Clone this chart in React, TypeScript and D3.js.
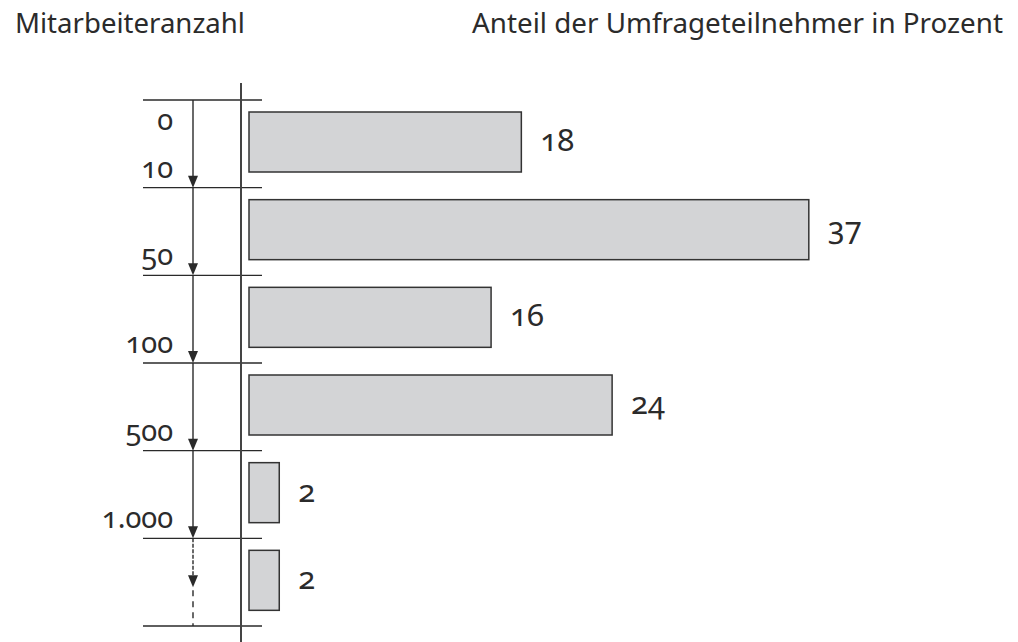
import React from "react";
import * as d3 from "d3";

const groups = ["0–10", "10–50", "50–100", "100–500", "500–1.000", "über 1.000"];
const values = [18, 37, 16, 24, 2, 2];
const tickLabels = ["0", "10", "50", "100", "500", "1.000"];
const titleLeft = "Mitarbeiteranzahl";
const titleRight = "Anteil der Umfrageteilnehmer in Prozent";

const W = 1018;
const H = 642;
const FONT = "'Noto Sans', 'Open Sans', sans-serif";

export default function App() {
  const y = d3.scaleBand<number>().domain(d3.range(groups.length)).range([100, 626]).padding(0);
  const x = d3.scaleLinear().domain([0, 40]).range([249, 249 + 40 * 15.13]);
  const step = y.step();
  const axisX = 241;
  const arrowX = 193;
  const boundaries = d3.range(groups.length + 1).map((i) => 100 + i * step);
  const ink = "#2a2a2a";
  const numStyle: React.CSSProperties = { fontFeatureSettings: "'onum' 1", fontVariantNumeric: "oldstyle-nums" };

  const arrowHead = (tipY: number, key: string) => (
    <path key={key} d={`M${arrowX - 5},${tipY - 12} L${arrowX + 5},${tipY - 12} L${arrowX},${tipY} Z`} fill={ink} />
  );

  return (
    <svg width={W} height={H} style={{ position: "absolute", left: 0, top: 0, background: "#fff" }} fontFamily={FONT}>
      <text x={15} y={33} fontSize={28} fill="#2b2b2b" textLength={230} lengthAdjust="spacingAndGlyphs">{titleLeft}</text>
      <text x={472} y={33} fontSize={28} fill="#2b2b2b" textLength={531} lengthAdjust="spacingAndGlyphs">{titleRight}</text>

      {boundaries.map((b, i) => (
        <line key={"b" + i} x1={143} x2={262} y1={b} y2={b} stroke={ink} strokeWidth={1.4} />
      ))}

      <line x1={axisX} x2={axisX} y1={83} y2={H} stroke="#444" strokeWidth={2} />

      {groups.map((g, i) => {
        const top = y(i)!;
        const bottom = top + step;
        if (i < groups.length - 1) {
          return (
            <g key={"a" + i}>
              <line x1={arrowX} x2={arrowX} y1={top} y2={bottom - 8} stroke={ink} strokeWidth={1.4} />
              {arrowHead(bottom, "h" + i)}
            </g>
          );
        }
        const tip = top + 49;
        return (
          <g key={"a" + i}>
            <line x1={arrowX} x2={arrowX} y1={top} y2={tip - 8} stroke={ink} strokeWidth={1.4} strokeDasharray="4,1.5" />
            {arrowHead(tip, "h" + i)}
            <line x1={arrowX} x2={arrowX} y1={tip + 3} y2={bottom} stroke={ink} strokeWidth={1.4} strokeDasharray="6,5" />
          </g>
        );
      })}

      {tickLabels.map((t, i) => (
        <text
          key={"t" + i}
          x={173}
          y={i === 0 ? boundaries[0] + 30 : boundaries[i] - 10}
          textAnchor="end"
          fontSize={29}
          fill="#2b2b2b"
          style={numStyle}
        >
          {t}
        </text>
      ))}

      {values.map((v, i) => {
        const top = y(i)! + 12;
        const h = 60;
        return (
          <g key={"bar" + i}>
            <rect x={x(0)} y={top} width={x(v) - x(0)} height={h} fill="#d3d4d6" stroke="#333" strokeWidth={1.5} />
            <text x={x(v) + 19} y={top + h / 2 + 9} fontSize={31} fill="#2b2b2b" style={numStyle}>
              {v}
            </text>
          </g>
        );
      })}
    </svg>
  );
}
